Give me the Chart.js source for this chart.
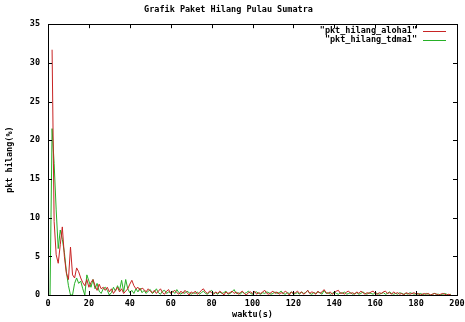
<!DOCTYPE html>
<html lang="en">
<head>
    <meta charset="UTF-8">
    <title>Grafik Paket Hilang Pulau Sumatra</title>
    <script src="https://cdn.jsdelivr.net/npm/chart.js@4.4.0/dist/chart.umd.min.js"></script>
    <style>
        body { margin: 0; background: #fff; }
    </style>
</head>
<body>
    <canvas id="myChart" width="465" height="322"></canvas>

    <script type="text/javascript">

        // packet loss (%) per second (first sample at t = 1 s)
        var aloha = [
            null, 31.7, 9.5, 5.2, 4.1, 6.5, 8.8, 5.0, 2.8, 2.0,
            6.2, 2.6, 2.2, 3.5, 3.0, 2.2, 1.6, 1.2, 2.0, 1.0,
            1.6, 2.0, 1.2, 0.6, 1.4, 0.8, 1.0, 0.6, 1.0, 0.4,
            0.8, 0.2, 0.6, 1.0, 0.4, 0.8, 0.2, 0.5, 0.8, 1.4,
            1.9, 1.2, 0.8, 1.0, 0.6, 0.9, 0.7, 0.4, 0.8, 0.5,
            0.3, 0.6, 0.2, 0.5, 0.8, 0.3, 0.1, 0.5, 0.7, 0.2,
            0.4, 0.6, 0.3, 0.1, 0.5, 0.2, 0.6, 0.3, 0.0, 0.4,
            0.2, 0.5, 0.1, 0.3, 0.6, 0.8, 0.4, 0.2, 0.5, 0.3,
            0.1, 0.4, 0.2, 0.5, 0.3, 0.0, 0.4, 0.2, 0.3, 0.5,
            0.2, 0.4, 0.1, 0.3, 0.5, 0.2, 0.0, 0.3, 0.4, 0.2,
            0.5, 0.1, 0.3, 0.2, 0.4, 0.6, 0.2, 0.1, 0.3, 0.5,
            0.2, 0.4, 0.1, 0.3, 0.2, 0.5, 0.3, 0.0, 0.4, 0.2,
            0.3, 0.5, 0.2, 0.4, 0.1, 0.3, 0.6, 0.2, 0.4, 0.3,
            0.1, 0.5, 0.2, 0.4, 0.7, 0.3, 0.2, 0.4, 0.1, 0.3,
            0.5, 0.6, 0.2, 0.3, 0.1, 0.4, 0.5, 0.2, 0.3, 0.1,
            0.4, 0.2, 0.5, 0.3, 0.1, 0.3, 0.2, 0.4, 0.5, 0.2,
            0.1, 0.3, 0.2, 0.4, 0.5, 0.2, 0.3, 0.1, 0.4, 0.2,
            0.3, 0.1, 0.2, 0.0, 0.3, 0.2, 0.1, 0.2, 0.3, 0.1,
            0.2, 0.0, 0.1, 0.2, 0.1, 0.2, 0.0, 0.1, 0.2, 0.1,
            0.0, 0.1, 0.2, 0.1, 0.0, 0.1, 0.0
        ];
        var tdma = [
            0.0, 21.5, 17.0, 11.0, 6.0, 8.4, 7.2, 5.5, 3.0, 1.2,
            0.0, 0.0, 1.5, 2.2, 1.5, 1.8, 0.8, 0.0, 2.6, 1.8,
            1.0, 2.0, 0.8, 1.5, 0.5, 0.2, 0.8, 1.0, 0.6, 0.0,
            0.3, 1.0, 0.5, 1.2, 0.6, 1.9, 0.4, 2.0, 0.8, 0.3,
            0.6, 0.2, 0.8, 0.4, 0.9, 0.3, 0.6, 0.2, 0.5, 0.7,
            0.2, 0.4, 0.8, 0.3, 0.1, 0.5, 0.6, 0.2, 0.4, 0.3,
            0.5, 0.2, 0.7, 0.3, 0.1, 0.4, 0.2, 0.5, 0.3, 0.1,
            0.3, 0.2, 0.4, 0.1, 0.3, 0.5, 0.2, 0.1, 0.4, 0.6,
            0.2, 0.3, 0.1, 0.4, 0.2, 0.3, 0.5, 0.1, 0.2, 0.4,
            0.7, 0.2, 0.3, 0.1, 0.4, 0.2, 0.3, 0.5, 0.2, 0.1,
            0.3, 0.4, 0.2, 0.1, 0.3, 0.2, 0.4, 0.3, 0.1, 0.2,
            0.4, 0.2, 0.3, 0.5, 0.2, 0.1, 0.3, 0.2, 0.4, 0.1,
            0.2, 0.3, 0.1, 0.4, 0.2, 0.3, 0.6, 0.2, 0.1, 0.3,
            0.2, 0.4, 0.3, 0.1, 0.6, 0.2, 0.3, 0.1, 0.2, 0.4,
            0.2, 0.1, 0.3, 0.2, 0.4, 0.1, 0.2, 0.3, 0.1, 0.2,
            0.3, 0.1, 0.2, 0.4, 0.2, 0.1, 0.3, 0.2, 0.1, 0.3,
            0.2, 0.1, 0.2, 0.3, 0.1, 0.2, 0.4, 0.2, 0.1, 0.2,
            0.1, 0.3, 0.2, 0.1, 0.2, 0.1, 0.3, 0.2, 0.1, 0.2,
            0.1, 0.2, 0.1, 0.0, 0.2, 0.1, 0.0, 0.1, 0.2, 0.1,
            0.1, 0.0, 0.1, 0.2, 0.1, 0.0, 0.1
        ];
        var waktu = tdma.map(function (v, i) { return i + 1; });

        var xTicks = [0, 20, 40, 60, 80, 100, 120, 140, 160, 180, 200];
        var yTicks = [0, 5, 10, 15, 20, 25, 30, 35];
        var seriesNames = ['"pkt_hilang_aloha1"', '"pkt_hilang_tdma1"'];
        var seriesColors = ['#c82424', '#26b026'];

        var FONT = 'DejaVu Sans Mono';

        function points(values) {
            return values.map(function (v, i) { return { x: waktu[i], y: v }; });
        }

        // gnuplot look: full frame, ticks pointing inwards on all four sides
        var framePlugin = {
            id: 'frame',
            afterDatasetsDraw: function (chart) {
                var ctx = chart.ctx, a = chart.chartArea;
                var xs = chart.scales.x, ys = chart.scales.y, t = 4;
                ctx.save();
                ctx.strokeStyle = '#000';
                ctx.lineWidth = 1;
                ctx.beginPath();
                xTicks.forEach(function (v) {
                    var px = Math.round(xs.getPixelForValue(v)) + 0.5;
                    ctx.moveTo(px, a.bottom); ctx.lineTo(px, a.bottom - t);
                    ctx.moveTo(px, a.top); ctx.lineTo(px, a.top + t);
                });
                yTicks.forEach(function (v) {
                    var py = Math.round(ys.getPixelForValue(v)) + 0.5;
                    ctx.moveTo(a.left, py); ctx.lineTo(a.left + t, py);
                    ctx.moveTo(a.right, py); ctx.lineTo(a.right - t, py);
                });
                ctx.stroke();
                ctx.strokeRect(Math.round(a.left) + 0.5, Math.round(a.top) + 0.5,
                    Math.round(a.right - a.left), Math.round(a.bottom - a.top));

                // key in the top right corner: text then line sample
                ctx.font = 'bold 8.5px ' + FONT;
                ctx.textAlign = 'right';
                ctx.textBaseline = 'middle';
                chart.data.datasets.forEach(function (ds, i) {
                    var y = a.top + 6.5 + i * 9;
                    ctx.fillStyle = '#000';
                    ctx.fillText(ds.label, a.right - 40, y);
                    ctx.strokeStyle = ds.borderColor;
                    ctx.beginPath();
                    ctx.moveTo(a.right - 34, Math.round(y) + 0.5);
                    ctx.lineTo(a.right - 11, Math.round(y) + 0.5);
                    ctx.stroke();
                });
                ctx.restore();
            }
        };

        var ctx = document.getElementById('myChart').getContext('2d');
        var myChart = new Chart(ctx, {
            type: 'line',
            data: {
                datasets: [{
                    label: seriesNames[0],
                    data: points(aloha),
                    borderColor: seriesColors[0],
                    borderWidth: 1,
                    pointRadius: 0,
                    tension: 0
                }, {
                    label: seriesNames[1],
                    data: points(tdma),
                    borderColor: seriesColors[1],
                    borderWidth: 1,
                    pointRadius: 0,
                    tension: 0
                }]
            },
            options: {
                responsive: false,
                animation: false,
                layout: { padding: { left: 0, right: 8, top: 0, bottom: 0 } },
                plugins: {
                    legend: { display: false },
                    tooltip: { enabled: false },
                    title: {
                        display: true,
                        text: 'Grafik Paket Hilang Pulau Sumatra',
                        color: '#000',
                        font: { family: FONT, size: 8.5, weight: 'bold' },
                        padding: { top: 5, bottom: 9 }
                    }
                },
                scales: {
                    x: {
                        type: 'linear',
                        min: 0,
                        max: 200,
                        afterBuildTicks: function (s) { s.ticks = xTicks.map(function (v) { return { value: v }; }); },
                        afterFit: function (s) { s.height = 27; s.paddingLeft = 0; s.paddingRight = 0; },
                        ticks: {
                            color: '#000',
                            padding: 4,
                            maxRotation: 0,
                            font: { family: FONT, size: 8.5, weight: 'bold' }
                        },
                        grid: { display: false, drawTicks: false },
                        border: { display: false },
                        title: {
                            display: true,
                            text: 'waktu(s)',
                            color: '#000',
                            padding: { top: 0, bottom: 2 },
                            font: { family: FONT, size: 8.5, weight: 'bold' }
                        }
                    },
                    y: {
                        min: 0,
                        max: 35,
                        afterBuildTicks: function (s) { s.ticks = yTicks.map(function (v) { return { value: v }; }); },
                        afterFit: function (s) { s.width = 48; s.paddingTop = 0; s.paddingBottom = 0; },
                        ticks: {
                            color: '#000',
                            padding: 8,
                            font: { family: FONT, size: 8.5, weight: 'bold' }
                        },
                        grid: { display: false, drawTicks: false },
                        border: { display: false },
                        title: {
                            display: true,
                            text: 'pkt hilang(%)',
                            color: '#000',
                            padding: { top: 5, bottom: 0 },
                            font: { family: FONT, size: 8.5, weight: 'bold' }
                        }
                    }
                }
            },
            plugins: [framePlugin]
        });
    </script>
</body>
</html>
